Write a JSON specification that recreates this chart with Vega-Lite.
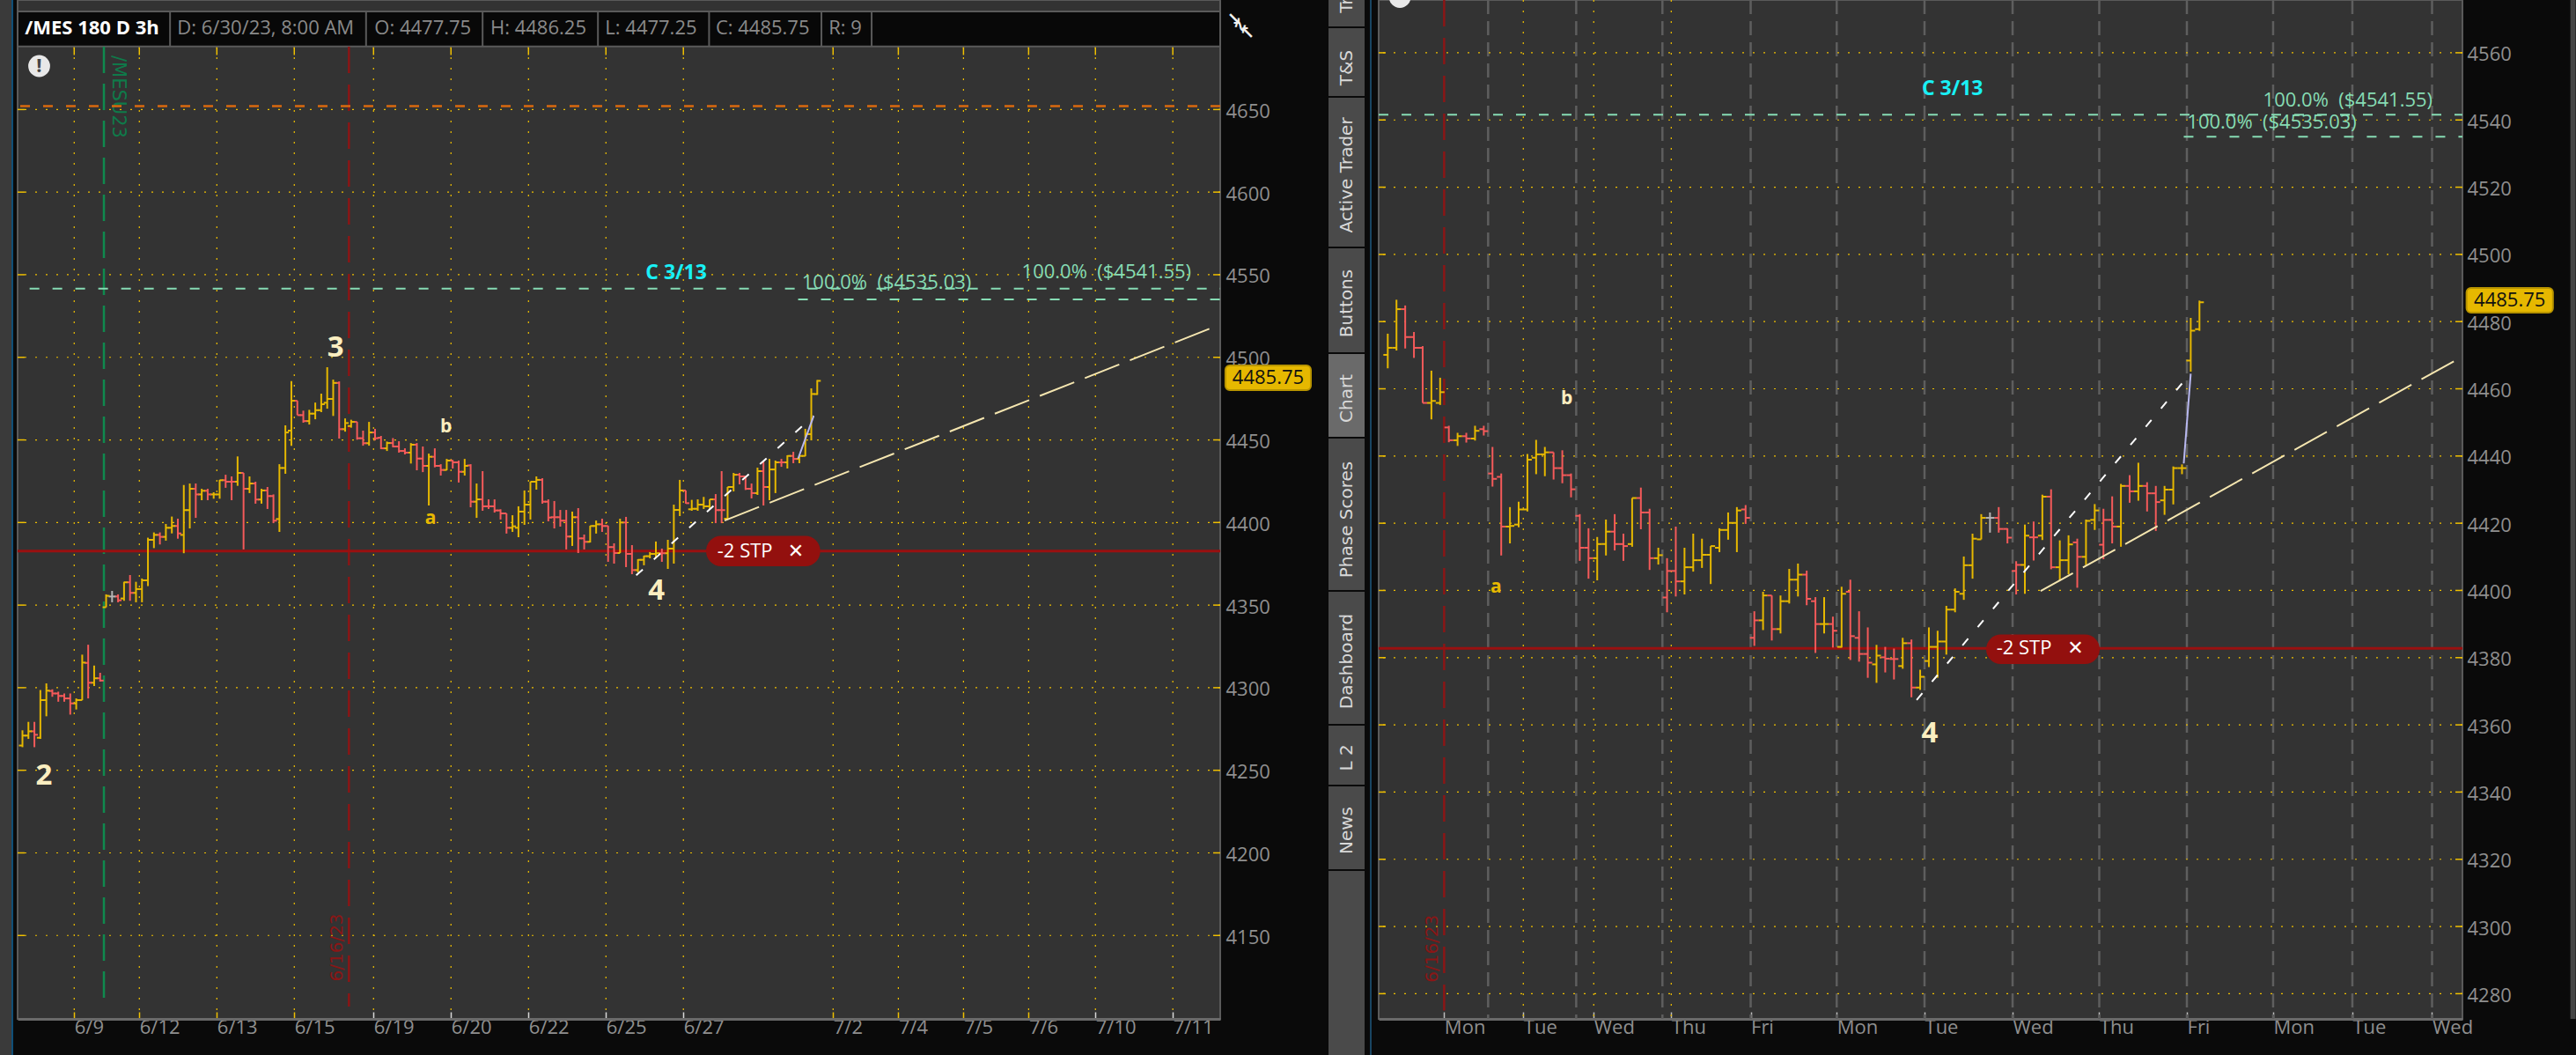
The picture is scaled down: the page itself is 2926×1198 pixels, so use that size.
{
  "$schema": "https://vega.github.io/schema/vega-lite/v6.json",
  "description": "/MES 180 D 3h bar charts, two zoom levels",
  "background": "#0a0a0a",
  "autosize": {"type": "none"},
  "padding": {"left": 20, "top": 0, "right": 2906, "bottom": 1198},
  "bounds": "flush",
  "spacing": 0,
  "config": {"text": {"font": "Open Sans"}, "rule": {"strokeCap": "butt"}},
  "datasets": {
    "left": [
      {"i":0,"o":4265,"h":4274.2,"l":4264,"c":4271,"d":"u"},
      {"i":1,"o":4271,"h":4279.3,"l":4269,"c":4273.6,"d":"u"},
      {"i":2,"o":4273.6,"h":4279.3,"l":4264,"c":4271.5,"d":"d"},
      {"i":3,"o":4269.7,"h":4298.6,"l":4269,"c":4292.5,"d":"u"},
      {"i":4,"o":4292.5,"h":4302.6,"l":4282.7,"c":4298.2,"d":"u"},
      {"i":5,"o":4298,"h":4299,"l":4294.5,"c":4296.5,"d":"d"},
      {"i":6,"o":4296.5,"h":4297.6,"l":4291.5,"c":4295,"d":"d"},
      {"i":7,"o":4295,"h":4296.5,"l":4291.5,"c":4293.5,"d":"d"},
      {"i":8,"o":4293.5,"h":4296.5,"l":4283.7,"c":4290.5,"d":"d"},
      {"i":9,"o":4290.5,"h":4293.5,"l":4286.8,"c":4292.5,"d":"u"},
      {"i":10,"o":4292.5,"h":4320,"l":4292.5,"c":4315.2,"d":"u"},
      {"i":11,"o":4315,"h":4326,"l":4293.5,"c":4303,"d":"d"},
      {"i":12,"o":4303,"h":4313.4,"l":4301,"c":4305.7,"d":"u"},
      {"i":13,"o":4305.7,"h":4309,"l":4303.7,"c":4304.3,"d":"d"},
      {"i":14,"o":4348.7,"h":4356.5,"l":4348.7,"c":4355.6,"d":"u"},
      {"i":15,"o":4355.2,"h":4358.6,"l":4351.7,"c":4355.2,"d":"f"},
      {"i":16,"o":4355.2,"h":4356.5,"l":4351.7,"c":4352.9,"d":"d"},
      {"i":17,"o":4354,"h":4364.1,"l":4352.6,"c":4363.8,"d":"u"},
      {"i":18,"o":4363.8,"h":4368.2,"l":4352.6,"c":4357.4,"d":"d"},
      {"i":19,"o":4357.4,"h":4364.1,"l":4351.7,"c":4359.7,"d":"u"},
      {"i":20,"o":4359.7,"h":4366.1,"l":4351.7,"c":4365,"d":"u"},
      {"i":21,"o":4365,"h":4390.8,"l":4361.5,"c":4389.5,"d":"u"},
      {"i":22,"o":4389.5,"h":4394,"l":4384.5,"c":4392.5,"d":"u"},
      {"i":23,"o":4392.5,"h":4394,"l":4386.7,"c":4391.3,"d":"d"},
      {"i":24,"o":4391.3,"h":4399.1,"l":4389,"c":4396.8,"d":"u"},
      {"i":25,"o":4396.8,"h":4403.6,"l":4393.4,"c":4397.9,"d":"u"},
      {"i":26,"o":4397.9,"h":4402.3,"l":4390.2,"c":4393.4,"d":"d"},
      {"i":27,"o":4392.5,"h":4422.7,"l":4381.4,"c":4407.5,"d":"u"},
      {"i":28,"o":4407.5,"h":4423.6,"l":4396.4,"c":4420.4,"d":"u"},
      {"i":29,"o":4420.4,"h":4423.6,"l":4402.8,"c":4417,"d":"d"},
      {"i":30,"o":4417,"h":4420.4,"l":4413.5,"c":4419.2,"d":"u"},
      {"i":31,"o":4419.2,"h":4420.4,"l":4413.5,"c":4417,"d":"d"},
      {"i":32,"o":4417,"h":4418.3,"l":4414.4,"c":4417,"d":"u"},
      {"i":33,"o":4417,"h":4425.8,"l":4414.4,"c":4425.6,"d":"u"},
      {"i":34,"o":4425.6,"h":4428.9,"l":4421,"c":4424.7,"d":"d"},
      {"i":35,"o":4424.7,"h":4427.9,"l":4413.5,"c":4424.7,"d":"d"},
      {"i":36,"o":4424.7,"h":4440,"l":4422.2,"c":4430,"d":"u"},
      {"i":37,"o":4430,"h":4430,"l":4383.7,"c":4420.4,"d":"d"},
      {"i":38,"o":4420.4,"h":4427.9,"l":4417.8,"c":4423.6,"d":"u"},
      {"i":39,"o":4423.6,"h":4424.7,"l":4411.4,"c":4413.9,"d":"d"},
      {"i":40,"o":4413.9,"h":4420.4,"l":4411.4,"c":4419.4,"d":"u"},
      {"i":41,"o":4419.4,"h":4421.5,"l":4408.2,"c":4416,"d":"d"},
      {"i":42,"o":4416,"h":4417,"l":4399.6,"c":4401.1,"d":"d"},
      {"i":43,"o":4402.1,"h":4435.3,"l":4394.3,"c":4433,"d":"u"},
      {"i":44,"o":4433,"h":4458.8,"l":4429.5,"c":4454.5,"d":"u"},
      {"i":45,"o":4455.6,"h":4485.6,"l":4446.4,"c":4473.7,"d":"u"},
      {"i":46,"o":4473.7,"h":4473.7,"l":4465,"c":4465,"d":"d"},
      {"i":47,"o":4465,"h":4467.7,"l":4460.4,"c":4461.4,"d":"d"},
      {"i":48,"o":4461.4,"h":4468.2,"l":4459.3,"c":4465.9,"d":"u"},
      {"i":49,"o":4465.9,"h":4472.6,"l":4462.5,"c":4468,"d":"u"},
      {"i":50,"o":4468,"h":4478,"l":4466.8,"c":4471.6,"d":"u"},
      {"i":51,"o":4472.5,"h":4494,"l":4468.9,"c":4474.8,"d":"u"},
      {"i":52,"o":4474.8,"h":4486.5,"l":4464.5,"c":4484.5,"d":"u"},
      {"i":53,"o":4484.5,"h":4485.4,"l":4450.8,"c":4456.5,"d":"d"},
      {"i":54,"o":4456.5,"h":4463,"l":4455,"c":4460.2,"d":"u"},
      {"i":55,"o":4458.4,"h":4462.2,"l":4457.4,"c":4460.9,"d":"u"},
      {"i":56,"o":4460.9,"h":4460.9,"l":4450.1,"c":4451,"d":"d"},
      {"i":57,"o":4451,"h":4455.6,"l":4446.5,"c":4448,"d":"d"},
      {"i":58,"o":4448,"h":4460.9,"l":4446.5,"c":4454.5,"d":"u"},
      {"i":59,"o":4454.5,"h":4456.7,"l":4449.7,"c":4451,"d":"d"},
      {"i":60,"o":4451.3,"h":4452.4,"l":4444.4,"c":4444.9,"d":"d"},
      {"i":61,"o":4444.9,"h":4449,"l":4443.3,"c":4448.1,"d":"u"},
      {"i":62,"o":4448.1,"h":4451.1,"l":4445.5,"c":4446,"d":"d"},
      {"i":63,"o":4446,"h":4449.2,"l":4442.3,"c":4443.3,"d":"d"},
      {"i":64,"o":4443.3,"h":4444.9,"l":4441.2,"c":4442.3,"d":"d"},
      {"i":65,"o":4442.3,"h":4448.1,"l":4435.7,"c":4447.1,"d":"u"},
      {"i":66,"o":4447.1,"h":4448.1,"l":4431.6,"c":4438.7,"d":"d"},
      {"i":67,"o":4438.7,"h":4446,"l":4430.5,"c":4434.3,"d":"d"},
      {"i":68,"o":4434.3,"h":4441.7,"l":4410.3,"c":4439.8,"d":"u"},
      {"i":69,"o":4439.8,"h":4444.9,"l":4433.4,"c":4434.3,"d":"d"},
      {"i":70,"o":4434.3,"h":4435.3,"l":4428.4,"c":4431.8,"d":"d"},
      {"i":71,"o":4431.8,"h":4438.5,"l":4431.6,"c":4437.5,"d":"u"},
      {"i":72,"o":4437.5,"h":4437.8,"l":4432.7,"c":4436.4,"d":"d"},
      {"i":73,"o":4436.4,"h":4437.5,"l":4424.2,"c":4430.7,"d":"d"},
      {"i":74,"o":4430.7,"h":4438.5,"l":4428.4,"c":4434.3,"d":"u"},
      {"i":75,"o":4434.6,"h":4435.3,"l":4409.2,"c":4412.6,"d":"d"},
      {"i":76,"o":4412.6,"h":4423.6,"l":4402.8,"c":4414,"d":"u"},
      {"i":77,"o":4414,"h":4431.1,"l":4407.1,"c":4409.8,"d":"d"},
      {"i":78,"o":4409.8,"h":4414,"l":4408.2,"c":4409.8,"d":"d"},
      {"i":79,"o":4409.8,"h":4414,"l":4406,"c":4407.3,"d":"d"},
      {"i":80,"o":4407.3,"h":4408,"l":4401.8,"c":4405.5,"d":"d"},
      {"i":81,"o":4405.5,"h":4405.5,"l":4393.3,"c":4396.8,"d":"d"},
      {"i":82,"o":4396.8,"h":4404.4,"l":4394.3,"c":4397.7,"d":"u"},
      {"i":83,"o":4396.8,"h":4409.8,"l":4391.1,"c":4406.6,"d":"u"},
      {"i":84,"o":4406.6,"h":4419.4,"l":4398.6,"c":4410.8,"d":"u"},
      {"i":85,"o":4410.8,"h":4424.7,"l":4401.8,"c":4424.7,"d":"u"},
      {"i":86,"o":4424.7,"h":4427.9,"l":4419.9,"c":4425.8,"d":"u"},
      {"i":87,"o":4425.8,"h":4426.8,"l":4411.4,"c":4412.6,"d":"d"},
      {"i":88,"o":4412.6,"h":4414,"l":4400.7,"c":4403,"d":"d"},
      {"i":89,"o":4403.2,"h":4413,"l":4396.4,"c":4403.2,"d":"d"},
      {"i":90,"o":4403.2,"h":4407.6,"l":4397.5,"c":4401.1,"d":"d"},
      {"i":91,"o":4401.1,"h":4407.6,"l":4383.7,"c":4391.5,"d":"d"},
      {"i":92,"o":4391.5,"h":4406.6,"l":4385.8,"c":4403.2,"d":"u"},
      {"i":93,"o":4403.2,"h":4408.7,"l":4381.5,"c":4390.4,"d":"d"},
      {"i":94,"o":4390.4,"h":4392.7,"l":4383.7,"c":4388.3,"d":"d"},
      {"i":95,"o":4388.3,"h":4398,"l":4387.9,"c":4397.9,"d":"u"},
      {"i":96,"o":4397.9,"h":4401.2,"l":4393.3,"c":4398.9,"d":"u"},
      {"i":97,"o":4398.9,"h":4402.3,"l":4394.3,"c":4397.9,"d":"d"},
      {"i":98,"o":4397.9,"h":4398,"l":4376.2,"c":4385.1,"d":"d"},
      {"i":99,"o":4385.1,"h":4387.4,"l":4375.1,"c":4381.5,"d":"d"},
      {"i":100,"o":4381.5,"h":4402.3,"l":4381.5,"c":4400,"d":"u"},
      {"i":101,"o":4400,"h":4403.4,"l":4373,"c":4381,"d":"d"},
      {"i":102,"o":4381,"h":4386.3,"l":4368.7,"c":4371.2,"d":"d"},
      {"i":103,"o":4371.2,"h":4377.8,"l":4369.8,"c":4377.4,"d":"u"},
      {"i":104,"o":4377.4,"h":4379.9,"l":4374.1,"c":4379.6,"d":"u"},
      {"i":105,"o":4379.6,"h":4382.1,"l":4378.3,"c":4381,"d":"u"},
      {"i":106,"o":4381,"h":4388.5,"l":4378.3,"c":4381.4,"d":"u"},
      {"i":107,"o":4381.4,"h":4384.2,"l":4376.2,"c":4381.4,"d":"d"},
      {"i":108,"o":4381.4,"h":4389.5,"l":4371.9,"c":4384.2,"d":"u"},
      {"i":109,"o":4384.2,"h":4410.8,"l":4375.1,"c":4407.6,"d":"u"},
      {"i":110,"o":4407.6,"h":4425.8,"l":4403.9,"c":4419.4,"d":"u"},
      {"i":111,"o":4419.4,"h":4419.4,"l":4411.4,"c":4411.7,"d":"d"},
      {"i":112,"o":4408,"h":4413.7,"l":4407.1,"c":4408.3,"d":"u"},
      {"i":113,"o":4408.3,"h":4414,"l":4407.1,"c":4410.8,"d":"u"},
      {"i":114,"o":4410.8,"h":4415.5,"l":4408.2,"c":4409.8,"d":"u"},
      {"i":115,"o":4409.8,"h":4414,"l":4408.2,"c":4414,"d":"u"},
      {"i":116,"o":4414,"h":4417.2,"l":4399.6,"c":4407.5,"d":"d"},
      {"i":117,"o":4407.5,"h":4431.1,"l":4399.6,"c":4407.5,"d":"d"},
      {"i":118,"o":4402.3,"h":4421.5,"l":4401.8,"c":4421.5,"d":"u"},
      {"i":119,"o":4421.5,"h":4430,"l":4418.8,"c":4428.9,"d":"u"},
      {"i":120,"o":4428.9,"h":4430,"l":4423.1,"c":4427.9,"d":"d"},
      {"i":121,"o":4427.9,"h":4427.9,"l":4419.7,"c":4420.4,"d":"d"},
      {"i":122,"o":4420.4,"h":4423.6,"l":4414.6,"c":4417.8,"d":"d"},
      {"i":123,"o":4417.8,"h":4433.2,"l":4416.7,"c":4431.1,"d":"u"},
      {"i":124,"o":4431.1,"h":4437.5,"l":4410.3,"c":4421.5,"d":"d"},
      {"i":125,"o":4421.5,"h":4438.5,"l":4413.5,"c":4432.1,"d":"u"},
      {"i":126,"o":4432.1,"h":4437.5,"l":4417.8,"c":4436.4,"d":"u"},
      {"i":127,"o":4436.4,"h":4438.5,"l":4433.7,"c":4436.4,"d":"d"},
      {"i":128,"o":4436.4,"h":4440.7,"l":4432.7,"c":4440.3,"d":"u"},
      {"i":129,"o":4440.3,"h":4442.8,"l":4435.9,"c":4438.5,"d":"d"},
      {"i":130,"o":4438.5,"h":4440.3,"l":4435.9,"c":4440.3,"d":"u"},
      {"i":131,"o":4440.3,"h":4456.7,"l":4440.1,"c":4453.5,"d":"u"},
      {"i":132,"o":4453.5,"h":4481.2,"l":4449.7,"c":4477.8,"d":"u"},
      {"i":133,"o":4477.75,"h":4486.25,"l":4477.25,"c":4485.75,"d":"u"}
    ],
    "right": [
      {"i":0,"o":4470.1,"h":4476.4,"l":4466.1,"c":4472.2,"d":"u"},
      {"i":1,"o":4472.2,"h":4486.5,"l":4471.4,"c":4483.7,"d":"u"},
      {"i":2,"o":4483.7,"h":4484.8,"l":4472,"c":4475.4,"d":"d"},
      {"i":3,"o":4475.4,"h":4476.9,"l":4469.2,"c":4472.2,"d":"d"},
      {"i":4,"o":4472.2,"h":4472.7,"l":4455.8,"c":4455.8,"d":"d"},
      {"i":5,"o":4455.8,"h":4465.4,"l":4450.9,"c":4456.4,"d":"u"},
      {"i":6,"o":4455.8,"h":4463.3,"l":4455.2,"c":4459,"d":"u"},
      {"i":7,"o":4448.5,"h":4449,"l":4444.1,"c":4444.7,"d":"d"},
      {"i":8,"o":4444.7,"h":4446.9,"l":4443,"c":4445.9,"d":"u"},
      {"i":9,"o":4445.9,"h":4446.9,"l":4444,"c":4445.2,"d":"d"},
      {"i":10,"o":4445.2,"h":4449,"l":4444.6,"c":4447.5,"d":"u"},
      {"i":11,"o":4448,"h":4449,"l":4446.1,"c":4447.4,"d":"d"},
      {"i":12,"o":4434.8,"h":4442.7,"l":4430.9,"c":4433.2,"d":"d"},
      {"i":13,"o":4433.8,"h":4434.8,"l":4410.4,"c":4419,"d":"d"},
      {"i":14,"o":4419,"h":4424.8,"l":4414,"c":4419.2,"d":"u"},
      {"i":15,"o":4419.6,"h":4426.4,"l":4418.8,"c":4424.1,"d":"u"},
      {"i":16,"o":4424.1,"h":4440.6,"l":4423.5,"c":4438.9,"d":"u"},
      {"i":17,"o":4439.5,"h":4444.8,"l":4434.6,"c":4440.5,"d":"u"},
      {"i":18,"o":4440.5,"h":4442.7,"l":4434,"c":4441.1,"d":"u"},
      {"i":19,"o":4441.1,"h":4441.1,"l":4433,"c":4436.4,"d":"d"},
      {"i":20,"o":4436.4,"h":4441.7,"l":4431.9,"c":4434.3,"d":"d"},
      {"i":21,"o":4434.3,"h":4434.8,"l":4427.7,"c":4430.1,"d":"d"},
      {"i":22,"o":4422.2,"h":4422.7,"l":4408.8,"c":4412.7,"d":"d"},
      {"i":23,"o":4412.7,"h":4418.5,"l":4403.5,"c":4409.6,"d":"d"},
      {"i":24,"o":4409.6,"h":4415.9,"l":4403,"c":4413.8,"d":"u"},
      {"i":25,"o":4413.8,"h":4421.1,"l":4410.4,"c":4417.5,"d":"u"},
      {"i":26,"o":4417.5,"h":4422.7,"l":4411.9,"c":4413.8,"d":"d"},
      {"i":27,"o":4413.8,"h":4416.9,"l":4408.8,"c":4413.2,"d":"d"},
      {"i":28,"o":4413.8,"h":4427.5,"l":4413,"c":4427.5,"d":"u"},
      {"i":29,"o":4427.5,"h":4430.6,"l":4418.2,"c":4423.2,"d":"d"},
      {"i":30,"o":4423.2,"h":4424.3,"l":4406.1,"c":4409.6,"d":"d"},
      {"i":31,"o":4409.6,"h":4412.7,"l":4407.7,"c":4410.5,"d":"u"},
      {"i":32,"o":4397.9,"h":4409.6,"l":4393.5,"c":4405.8,"d":"d"},
      {"i":33,"o":4405.8,"h":4419,"l":4398.2,"c":4402.7,"d":"d"},
      {"i":34,"o":4402.7,"h":4412.7,"l":4398.8,"c":4406.9,"d":"u"},
      {"i":35,"o":4406.9,"h":4416.9,"l":4405.6,"c":4409,"d":"u"},
      {"i":36,"o":4409,"h":4415.4,"l":4406.7,"c":4410.6,"d":"u"},
      {"i":37,"o":4410.6,"h":4413.2,"l":4401.9,"c":4413.2,"d":"u"},
      {"i":38,"o":4412.7,"h":4418.5,"l":4411.4,"c":4418,"d":"u"},
      {"i":39,"o":4418,"h":4423.2,"l":4415.1,"c":4420.1,"d":"u"},
      {"i":40,"o":4420.1,"h":4424.8,"l":4411.4,"c":4423.8,"d":"u"},
      {"i":41,"o":4424.1,"h":4425.4,"l":4419.8,"c":4421.6,"d":"d"},
      {"i":42,"o":4385.9,"h":4393.8,"l":4383.5,"c":4391.1,"d":"d"},
      {"i":43,"o":4391.1,"h":4399.6,"l":4388.2,"c":4398.5,"d":"u"},
      {"i":44,"o":4398.5,"h":4398.5,"l":4385.1,"c":4388.5,"d":"d"},
      {"i":45,"o":4388.5,"h":4398.5,"l":4387.2,"c":4396.8,"d":"u"},
      {"i":46,"o":4396.8,"h":4406.4,"l":4396.1,"c":4403.2,"d":"u"},
      {"i":47,"o":4403.2,"h":4408,"l":4398.2,"c":4404.7,"d":"u"},
      {"i":48,"o":4404.7,"h":4405.9,"l":4395.6,"c":4397.5,"d":"d"},
      {"i":49,"o":4396.8,"h":4398,"l":4381.4,"c":4390,"d":"d"},
      {"i":50,"o":4390,"h":4398,"l":4387.2,"c":4390,"d":"u"},
      {"i":51,"o":4390,"h":4392.2,"l":4383,"c":4388,"d":"d"},
      {"i":52,"o":4383.2,"h":4401.1,"l":4383,"c":4399,"d":"u"},
      {"i":53,"o":4399.6,"h":4403.2,"l":4379.3,"c":4386.4,"d":"d"},
      {"i":54,"o":4385.9,"h":4393.8,"l":4378.8,"c":4381.1,"d":"d"},
      {"i":55,"o":4381.1,"h":4389,"l":4374,"c":4378.5,"d":"d"},
      {"i":56,"o":4378,"h":4383.8,"l":4372.5,"c":4380.6,"d":"u"},
      {"i":57,"o":4380.1,"h":4383.2,"l":4375.6,"c":4379.7,"d":"d"},
      {"i":58,"o":4379.6,"h":4382.7,"l":4373.5,"c":4379.6,"d":"d"},
      {"i":59,"o":4377.5,"h":4385.9,"l":4376.7,"c":4384.3,"d":"u"},
      {"i":60,"o":4384.3,"h":4385.4,"l":4368.2,"c":4371.1,"d":"d"},
      {"i":61,"o":4371.1,"h":4376.4,"l":4370.4,"c":4374.3,"d":"u"},
      {"i":62,"o":4379,"h":4389,"l":4377.2,"c":4383.2,"d":"u"},
      {"i":63,"o":4383.2,"h":4388,"l":4374,"c":4384.8,"d":"u"},
      {"i":64,"o":4384.8,"h":4395.4,"l":4380.9,"c":4394.3,"d":"u"},
      {"i":65,"o":4394.3,"h":4400.6,"l":4393.5,"c":4399.6,"d":"u"},
      {"i":66,"o":4399,"h":4410.1,"l":4397.2,"c":4407.5,"d":"u"},
      {"i":67,"o":4407.5,"h":4416.9,"l":4403.5,"c":4415.4,"d":"u"},
      {"i":68,"o":4415.2,"h":4422.7,"l":4415.2,"c":4421.6,"d":"u"},
      {"i":69,"o":4421.6,"h":4423.2,"l":4417.2,"c":4421.6,"d":"f"},
      {"i":70,"o":4421.6,"h":4424.8,"l":4417.2,"c":4418.3,"d":"d"},
      {"i":71,"o":4418.3,"h":4418.5,"l":4414,"c":4415.7,"d":"d"},
      {"i":72,"o":4405.8,"h":4408.7,"l":4398.8,"c":4407.6,"d":"d"},
      {"i":73,"o":4407.6,"h":4419.6,"l":4399,"c":4416.3,"d":"u"},
      {"i":74,"o":4415.8,"h":4420.5,"l":4408.9,"c":4415.8,"d":"d"},
      {"i":75,"o":4416.3,"h":4428.5,"l":4415,"c":4427.9,"d":"u"},
      {"i":76,"o":4427.9,"h":4430.1,"l":4406.3,"c":4406.9,"d":"d"},
      {"i":77,"o":4406.9,"h":4414.9,"l":4403,"c":4409,"d":"u"},
      {"i":78,"o":4409,"h":4416.4,"l":4404.8,"c":4413.7,"d":"u"},
      {"i":79,"o":4414.3,"h":4415.4,"l":4400.8,"c":4410,"d":"d"},
      {"i":80,"o":4410,"h":4421.1,"l":4407.5,"c":4420.7,"d":"u"},
      {"i":81,"o":4421,"h":4425.7,"l":4418,"c":4423.8,"d":"u"},
      {"i":82,"o":4413.6,"h":4424.3,"l":4409.3,"c":4421,"d":"d"},
      {"i":83,"o":4421,"h":4428,"l":4414,"c":4419,"d":"d"},
      {"i":84,"o":4419,"h":4431.7,"l":4413,"c":4431.1,"d":"u"},
      {"i":85,"o":4431.1,"h":4434.3,"l":4426.1,"c":4429.5,"d":"d"},
      {"i":86,"o":4429.5,"h":4438,"l":4426.7,"c":4431.1,"d":"u"},
      {"i":87,"o":4431.1,"h":4432.2,"l":4423.5,"c":4428.9,"d":"d"},
      {"i":88,"o":4428.9,"h":4431.1,"l":4417.7,"c":4426.3,"d":"d"},
      {"i":89,"o":4426.8,"h":4431.1,"l":4422.5,"c":4430,"d":"u"},
      {"i":90,"o":4430,"h":4436.9,"l":4425.6,"c":4436.4,"d":"u"},
      {"i":91,"o":4436.4,"h":4437.5,"l":4434.6,"c":4436.4,"d":"u"},
      {"i":92,"o":4468.4,"h":4481.1,"l":4465.1,"c":4477.3,"d":"u"},
      {"i":93,"o":4477.75,"h":4486.25,"l":4477.25,"c":4485.75,"d":"u"}
    ],
    "leftLevels": [{"p":4150},{"p":4200},{"p":4250},{"p":4300},{"p":4350},{"p":4400},{"p":4450},{"p":4500},{"p":4550},{"p":4600},{"p":4650}],
    "rightLevels": [{"p":4280},{"p":4300},{"p":4320},{"p":4340},{"p":4360},{"p":4380},{"p":4400},{"p":4420},{"p":4440},{"p":4460},{"p":4480},{"p":4500},{"p":4520},{"p":4540},{"p":4560}],
    "leftDates": [{"i":8.66},{"i":19.56},{"i":32.53},{"i":45.49},{"i":58.75},{"i":71.71},{"i":84.68},{"i":97.64},{"i":110.6},{"i":135.65},{"i":146.57},{"i":157.47},{"i":168.37},{"i":179.55},{"i":192.5}]
  },
  "hconcat": [
    {
      "width": 1366,
      "height": 1157,
      "view": {"fill": "#333333", "stroke": "#5a5a5a", "strokeWidth": 2},
      "layer": [
        {
          "data": {"name": "leftDates"},
          "mark": {"type": "rule", "stroke": "#f0c000", "strokeWidth": 1.2, "strokeDash": [2, 10]},
          "encoding": {
            "x": {
              "field": "i", "type": "quantitative",
              "scale": {"domain": [-0.81, 200.43], "nice": false, "zero": false},
              "axis": {
                "title": null, "grid": false, "domain": true, "domainColor": "#6a6a6a", "domainWidth": 3,
                "values": [8.66,19.56,32.53,45.49,58.75,71.71,84.68,97.64,110.6,135.65,146.57,157.47,168.37,179.55,192.5],
                "labelExpr": "{'8.66':'6/9','19.56':'6/12','32.53':'6/13','45.49':'6/15','58.75':'6/19','71.71':'6/20','84.68':'6/22','97.64':'6/25','110.6':'6/27','135.65':'7/2','146.57':'7/4','157.47':'7/5','168.37':'7/6','179.55':'7/10','192.5':'7/11'}[datum.value]",
                "labelFont": "Open Sans", "labelFontSize": 22, "labelColor": "#8f8f8f", "labelAlign": "left", "labelBaseline": "top",
                "labelPadding": 7, "labelOverlap": false, "labelBound": false, "labelFlush": false,
                "tickSize": -8, "tickWidth": 1.5,
                "tickColor": {"condition": {"test": "datum.value < 50 || (datum.value > 130 && datum.value < 175)", "value": "#f0c000"}, "value": "#d8d8d8"}
              }
            },
            "y": {
              "datum": 4688, "type": "quantitative",
              "scale": {"domain": [4099.5, 4716.3], "nice": false, "zero": false},
              "axis": {
                "title": null, "orient": "right", "grid": false, "ticks": false, "domain": false,
                "values": [4150,4200,4250,4300,4350,4400,4450,4500,4550,4600,4650],
                "format": "d", "labelFont": "Open Sans", "labelFontSize": 22, "labelColor": "#8f8f8f", "labelPadding": 6,
                "labelOffset": 2, "labelOverlap": false, "labelBound": false, "labelFlush": false
              }
            },
            "y2": {"datum": 4099.5}
          }
        },
        {
          "data": {"name": "leftDates"},
          "mark": {"type": "rule", "stroke": "#f0c000", "strokeWidth": 1.5},
          "encoding": {
            "x": {"field": "i", "type": "quantitative"},
            "y": {"datum": 4688, "type": "quantitative"},
            "y2": {"datum": 4683}
          }
        },
        {
          "data": {"name": "leftLevels"},
          "mark": {"type": "rule", "stroke": "#f0c000", "strokeWidth": 1.2, "strokeDash": [2, 10]},
          "encoding": {"y": {"field": "p", "type": "quantitative"}}
        },
        {
          "data": {"name": "leftLevels"},
          "mark": {"type": "tick", "orient": "horizontal", "size": 8, "thickness": 1.5, "color": "#f0c000", "opacity": 1, "xOffset": 4},
          "encoding": {"x": {"datum": -0.81, "type": "quantitative"}, "y": {"field": "p", "type": "quantitative"}}
        },
        {
          "data": {"name": "leftLevels"},
          "mark": {"type": "tick", "orient": "horizontal", "size": 8, "thickness": 1.5, "color": "#f0c000", "opacity": 1, "xOffset": -4},
          "encoding": {"x": {"datum": 200.43, "type": "quantitative"}, "y": {"field": "p", "type": "quantitative"}}
        },
        {
          "data": {"values": [{"a": -3.76, "b": -1.69, "top": 4716.3, "bot": 4077.6}]},
          "mark": {"type": "rect", "fill": "#3a3a3a"},
          "encoding": {"x": {"field": "a", "type": "quantitative"}, "x2": {"field": "b"}, "y": {"field": "top", "type": "quantitative"}, "y2": {"field": "bot"}}
        },
        {
          "data": {"values": [{"a": -1.69, "top": 4716.3, "bot": 4077.6}]},
          "mark": {"type": "rule", "stroke": "#0f4f78", "strokeWidth": 2},
          "encoding": {"x": {"field": "a", "type": "quantitative"}, "y": {"field": "top", "type": "quantitative"}, "y2": {"field": "bot"}}
        },
        {
          "data": {"values": [{"a": -0.81, "b": 200.43, "top": 4709.4, "bot": 4688.2}]},
          "mark": {"type": "rect", "fill": "#080808", "stroke": "#5a5a5a", "strokeWidth": 2},
          "encoding": {"x": {"field": "a", "type": "quantitative"}, "x2": {"field": "b"}, "y": {"field": "top", "type": "quantitative"}, "y2": {"field": "bot"}}
        },
        {
          "data": {"values": [{"a": 24.7}, {"a": 57.5}, {"a": 77}, {"a": 96.3}, {"a": 114.9}, {"a": 133.7}, {"a": 142.1}]},
          "mark": {"type": "rule", "stroke": "#5a5a5a", "strokeWidth": 2},
          "encoding": {"x": {"field": "a", "type": "quantitative"}, "y": {"datum": 4709.4, "type": "quantitative"}, "y2": {"datum": 4688.2}}
        },
        {
          "data": {"values": [{"a": 0.4, "t": "/MES 180 D 3h"}]},
          "mark": {"type": "text", "align": "left", "baseline": "middle", "fontSize": 22, "fontWeight": "bold", "fill": "#ffffff"},
          "encoding": {"x": {"field": "a", "type": "quantitative"}, "y": {"datum": 4699, "type": "quantitative"}, "text": {"field": "t"}}
        },
        {
          "data": {"values": [{"a": 25.9, "t": "D: 6/30/23, 8:00 AM"}, {"a": 58.9, "t": "O: 4477.75"}, {"a": 78.3, "t": "H: 4486.25"}, {"a": 97.5, "t": "L: 4477.25"}, {"a": 116, "t": "C: 4485.75"}, {"a": 134.9, "t": "R: 9"}]},
          "mark": {"type": "text", "align": "left", "baseline": "middle", "fontSize": 22, "fill": "#8a8a8a"},
          "encoding": {"x": {"field": "a", "type": "quantitative"}, "y": {"datum": 4699, "type": "quantitative"}, "text": {"field": "t"}}
        },
        {
          "data": {"values": [{"a": 202.8, "p": 4704.6, "t": "↘"}, {"a": 203.8, "p": 4700.3, "t": "∿"}, {"a": 204.9, "p": 4696, "t": "↖"}]},
          "mark": {"type": "text", "font": "DejaVu Sans", "fontSize": 20, "fontWeight": "bold", "fill": "#f0f0f0"},
          "encoding": {"x": {"field": "a", "type": "quantitative"}, "y": {"field": "p", "type": "quantitative"}, "text": {"field": "t"}}
        },
        {
          "data": {"values": [{"a": 13.63, "top": 4688, "bot": 4107}]},
          "mark": {"type": "rule", "stroke": "#0f8a4e", "strokeWidth": 2.5, "strokeDash": [30, 12]},
          "encoding": {"x": {"field": "a", "type": "quantitative"}, "y": {"field": "top", "type": "quantitative"}, "y2": {"field": "bot"}}
        },
        {
          "data": {"values": [{"a": 54.63, "top": 4688, "bot": 4107}]},
          "mark": {"type": "rule", "stroke": "#8a1616", "strokeWidth": 2.5, "strokeDash": [30, 13]},
          "encoding": {"x": {"field": "a", "type": "quantitative"}, "y": {"field": "top", "type": "quantitative"}, "y2": {"field": "bot"}}
        },
        {
          "data": {"values": [{"a": 16, "p": 4657.7, "t": "/MESU23"}]},
          "mark": {"type": "text", "font": "DejaVu Sans", "fontSize": 21, "angle": 90, "fill": "#0f7a4a"},
          "encoding": {"x": {"field": "a", "type": "quantitative"}, "y": {"field": "p", "type": "quantitative"}, "text": {"field": "t"}}
        },
        {
          "data": {"values": [{"a": 52.6, "p": 4142.7, "t": "6/16/23"}]},
          "mark": {"type": "text", "font": "DejaVu Sans", "fontSize": 20, "angle": 270, "fill": "#8a1616"},
          "encoding": {"x": {"field": "a", "type": "quantitative"}, "y": {"field": "p", "type": "quantitative"}, "text": {"field": "t"}}
        },
        {
          "data": {"values": [{"p": 4652}]},
          "mark": {"type": "rule", "stroke": "#d9690f", "strokeWidth": 2.5, "strokeDash": [11, 15]},
          "encoding": {"y": {"field": "p", "type": "quantitative"}}
        },
        {
          "data": {"values": [{"a": 1.2, "b": 200.43, "p": 4541.55}, {"a": 129.8, "b": 200.43, "p": 4535.03}]},
          "mark": {"type": "rule", "stroke": "#86dcb4", "strokeWidth": 2, "strokeDash": [11, 15]},
          "encoding": {"x": {"field": "a", "type": "quantitative"}, "x2": {"field": "b"}, "y": {"field": "p", "type": "quantitative"}}
        },
        {
          "data": {"values": [{"p": 4382.75}]},
          "mark": {"type": "rule", "stroke": "#9a1010", "strokeWidth": 3},
          "encoding": {"y": {"field": "p", "type": "quantitative"}}
        },
        {
          "data": {"name": "left"},
          "mark": {"type": "rule", "strokeWidth": 2},
          "encoding": {
            "x": {"field": "i", "type": "quantitative"},
            "y": {"field": "h", "type": "quantitative"},
            "y2": {"field": "l"},
            "color": {"field": "d", "type": "nominal", "scale": {"domain": ["u", "d", "f"], "range": ["#e6b800", "#f55a5a", "#b4b4b4"]}, "legend": null}
          }
        },
        {
          "data": {"name": "left"},
          "mark": {"type": "tick", "orient": "horizontal", "size": 4, "thickness": 2, "opacity": 1, "xOffset": -2},
          "encoding": {"x": {"field": "i", "type": "quantitative"}, "y": {"field": "o", "type": "quantitative"}, "color": {"field": "d", "type": "nominal", "legend": null}}
        },
        {
          "data": {"name": "left"},
          "mark": {"type": "tick", "orient": "horizontal", "size": 4, "thickness": 2, "opacity": 1, "xOffset": 2},
          "encoding": {"x": {"field": "i", "type": "quantitative"}, "y": {"field": "c", "type": "quantitative"}, "color": {"field": "d", "type": "nominal", "legend": null}}
        },
        {
          "data": {"values": [{"a": 102.7, "b": 132.4, "p": 4368, "q": 4464.5}]},
          "mark": {"type": "rule", "stroke": "#ffffff", "strokeWidth": 2, "strokeDash": [10, 17]},
          "encoding": {"x": {"field": "a", "type": "quantitative"}, "x2": {"field": "b"}, "y": {"field": "p", "type": "quantitative"}, "y2": {"field": "q"}}
        },
        {
          "data": {"values": [{"a": 117.5, "b": 199.5, "p": 4401.2, "q": 4518.5}]},
          "mark": {"type": "rule", "stroke": "#f5e6b0", "strokeWidth": 2, "strokeDash": [42, 13]},
          "encoding": {"x": {"field": "a", "type": "quantitative"}, "x2": {"field": "b"}, "y": {"field": "p", "type": "quantitative"}, "y2": {"field": "q"}}
        },
        {
          "data": {"values": [{"a": 129.8, "b": 132.4, "p": 4438.7, "q": 4464.5}]},
          "mark": {"type": "rule", "stroke": "#b8b8f0", "strokeWidth": 2},
          "encoding": {"x": {"field": "a", "type": "quantitative"}, "x2": {"field": "b"}, "y": {"field": "p", "type": "quantitative"}, "y2": {"field": "q"}}
        },
        {
          "data": {"values": [{"a": 114.4, "b": 133.5, "p": 4391.9, "q": 4373.5}]},
          "mark": {"type": "rect", "fill": "#93100e", "cornerRadius": 17},
          "encoding": {"x": {"field": "a", "type": "quantitative"}, "x2": {"field": "b"}, "y": {"field": "p", "type": "quantitative"}, "y2": {"field": "q"}}
        },
        {
          "data": {"values": [{"a": 120.9, "p": 4382.75, "t": "-2 STP"}]},
          "mark": {"type": "text", "fontSize": 22, "fill": "#ffffff"},
          "encoding": {"x": {"field": "a", "type": "quantitative"}, "y": {"field": "p", "type": "quantitative"}, "text": {"field": "t"}}
        },
        {
          "data": {"values": [{"a": 129.4, "p": 4382.75, "t": "✕"}]},
          "mark": {"type": "text", "font": "DejaVu Sans", "fontSize": 22, "fontWeight": "bold", "fill": "#ffffff"},
          "encoding": {"x": {"field": "a", "type": "quantitative"}, "y": {"field": "p", "type": "quantitative"}, "text": {"field": "t"}}
        },
        {
          "data": {"values": [{"a": 52.4, "p": 4505.7, "t": "3"}, {"a": 3.6, "p": 4246.6, "t": "2"}, {"a": 106.1, "p": 4358.6, "t": "4"}]},
          "mark": {"type": "text", "fontSize": 33, "fontWeight": "bold", "fill": "#fbeec0"},
          "encoding": {"x": {"field": "a", "type": "quantitative"}, "y": {"field": "p", "type": "quantitative"}, "text": {"field": "t"}}
        },
        {
          "data": {"values": [{"a": 70.9, "p": 4457.7, "t": "b"}]},
          "mark": {"type": "text", "fontSize": 21, "fontWeight": "bold", "fill": "#fbeec0"},
          "encoding": {"x": {"field": "a", "type": "quantitative"}, "y": {"field": "p", "type": "quantitative"}, "text": {"field": "t"}}
        },
        {
          "data": {"values": [{"a": 68.3, "p": 4402.3, "t": "a"}]},
          "mark": {"type": "text", "fontSize": 21, "fontWeight": "bold", "fill": "#e6b800"},
          "encoding": {"x": {"field": "a", "type": "quantitative"}, "y": {"field": "p", "type": "quantitative"}, "text": {"field": "t"}}
        },
        {
          "data": {"values": [{"a": 109.4, "p": 4551, "t": "C 3/13"}]},
          "mark": {"type": "text", "fontSize": 23, "fontWeight": "bold", "fill": "#19f0f5"},
          "encoding": {"x": {"field": "a", "type": "quantitative"}, "y": {"field": "p", "type": "quantitative"}, "text": {"field": "t"}}
        },
        {
          "data": {"values": [{"a": 181.4, "p": 4551.8, "t": "100.0%\u00a0\u00a0($4541.55)"}, {"a": 144.6, "p": 4545.2, "t": "100.0%\u00a0\u00a0($4535.03)"}]},
          "mark": {"type": "text", "fontSize": 22, "fill": "#86dcb4"},
          "encoding": {"x": {"field": "a", "type": "quantitative"}, "y": {"field": "p", "type": "quantitative"}, "text": {"field": "t"}}
        },
        {
          "data": {"values": [{"a": 2.8, "p": 4676.3}]},
          "mark": {"type": "point", "shape": "circle", "size": 616, "filled": true, "fill": "#e8e8e8", "opacity": 1},
          "encoding": {"x": {"field": "a", "type": "quantitative"}, "y": {"field": "p", "type": "quantitative"}}
        },
        {
          "data": {"values": [{"a": 2.8, "p": 4676.3, "t": "!"}]},
          "mark": {"type": "text", "fontSize": 22, "fontWeight": "bold", "fill": "#444444"},
          "encoding": {"x": {"field": "a", "type": "quantitative"}, "y": {"field": "p", "type": "quantitative"}, "text": {"field": "t"}}
        },
        {
          "data": {"values": [{"a": 201.3, "b": 215.6, "p": 4495, "q": 4480.1}]},
          "mark": {"type": "rect", "fill": "#e6b800", "stroke": "#b89400", "strokeWidth": 2, "cornerRadius": 5},
          "encoding": {"x": {"field": "a", "type": "quantitative"}, "x2": {"field": "b"}, "y": {"field": "p", "type": "quantitative"}, "y2": {"field": "q"}}
        },
        {
          "data": {"values": [{"a": 208.45, "p": 4487.5, "t": "4485.75"}]},
          "mark": {"type": "text", "fontSize": 22, "fill": "#111111"},
          "encoding": {"x": {"field": "a", "type": "quantitative"}, "y": {"field": "p", "type": "quantitative"}, "text": {"field": "t"}}
        }
      ]
    },
    {
      "width": 180,
      "height": 1157,
      "view": {"stroke": null},
      "layer": [
        {
          "data": {"values": [
            {"a": 123, "b": 164, "top": 0, "bot": 30},
            {"a": 123, "b": 164, "top": 32, "bot": 109},
            {"a": 123, "b": 164, "top": 111, "bot": 280},
            {"a": 123, "b": 164, "top": 282, "bot": 400},
            {"a": 123, "b": 164, "top": 498, "bot": 670},
            {"a": 123, "b": 164, "top": 672, "bot": 822},
            {"a": 123, "b": 164, "top": 824, "bot": 891},
            {"a": 123, "b": 164, "top": 893, "bot": 987},
            {"a": 123, "b": 164, "top": 989, "bot": 1198}
          ]},
          "mark": {"type": "rect", "fill": "#4a4a4a"},
          "encoding": {
            "x": {"field": "a", "type": "quantitative", "scale": {"domain": [0, 180], "nice": false}, "axis": null},
            "x2": {"field": "b"},
            "y": {"field": "top", "type": "quantitative", "scale": {"domain": [1157, 0], "nice": false, "zero": false}, "axis": null},
            "y2": {"field": "bot"}
          }
        },
        {
          "data": {"values": [{"a": 123, "b": 164, "top": 402, "bot": 496}]},
          "mark": {"type": "rect", "fill": "#6a6a6a"},
          "encoding": {"x": {"field": "a", "type": "quantitative"}, "x2": {"field": "b"}, "y": {"field": "top", "type": "quantitative"}, "y2": {"field": "bot"}}
        },
        {
          "data": {"values": [{"a": 171, "top": 0, "bot": 1198}]},
          "mark": {"type": "rule", "stroke": "#1f5a80", "strokeWidth": 1.5},
          "encoding": {"x": {"field": "a", "type": "quantitative"}, "y": {"field": "top", "type": "quantitative"}, "y2": {"field": "bot"}}
        },
        {
          "data": {"values": [
            {"mid": 6, "t": "Tr"},
            {"mid": 77, "t": "T&S"},
            {"mid": 199, "t": "Active Trader"},
            {"mid": 344.5, "t": "Buttons"},
            {"mid": 452.5, "t": "Chart"},
            {"mid": 590, "t": "Phase Scores"},
            {"mid": 751, "t": "Dashboard"},
            {"mid": 860.5, "t": "L 2"},
            {"mid": 943, "t": "News"}
          ]},
          "mark": {"type": "text", "font": "DejaVu Sans", "fontSize": 20, "angle": 270, "fill": "#d8d8d8"},
          "encoding": {"x": {"datum": 144, "type": "quantitative"}, "y": {"field": "mid", "type": "quantitative"}, "text": {"field": "t"}}
        }
      ]
    },
    {
      "width": 1231,
      "height": 1157,
      "view": {"fill": "#333333", "stroke": "#5a5a5a", "strokeWidth": 2},
      "layer": [
        {
          "data": {"values": [{"i": 11.5}, {"i": 21.59}, {"i": 31.47}, {"i": 41.58}, {"i": 51.44}, {"i": 61.5}, {"i": 71.59}, {"i": 81.52}, {"i": 91.56}, {"i": 101.44}, {"i": 110.52}, {"i": 119.65}]},
          "mark": {"type": "rule", "stroke": "#5e5e5e", "strokeWidth": 2.5, "strokeDash": [16, 8]},
          "encoding": {
            "x": {
              "field": "i", "type": "quantitative",
              "scale": {"domain": [-1.04, 123.13], "nice": false, "zero": false},
              "axis": {
                "title": null, "grid": false, "domain": true, "domainColor": "#6a6a6a", "domainWidth": 3,
                "values": [6.46,15.53,23.6,32.48,41.58,51.44,61.5,71.59,81.52,91.56,101.44,110.52,119.65],
                "labelExpr": "{'6.46':'Mon','15.53':'Tue','23.6':'Wed','32.48':'Thu','41.58':'Fri','51.44':'Mon','61.5':'Tue','71.59':'Wed','81.52':'Thu','91.56':'Fri','101.44':'Mon','110.52':'Tue','119.65':'Wed'}[datum.value]",
                "labelFont": "Open Sans", "labelFontSize": 22, "labelColor": "#8f8f8f", "labelAlign": "left", "labelBaseline": "top",
                "labelPadding": 7, "labelOverlap": false, "labelBound": false, "labelFlush": false,
                "tickSize": -8, "tickWidth": 1.5, "tickColor": "#bdbdbd"
              }
            },
            "y": {
              "datum": 4575.7, "type": "quantitative",
              "scale": {"domain": [4272.5, 4575.7], "nice": false, "zero": false},
              "axis": {
                "title": null, "orient": "right", "grid": false, "ticks": false, "domain": false,
                "values": [4280,4300,4320,4340,4360,4380,4400,4420,4440,4460,4480,4500,4520,4540,4560],
                "format": "d", "labelFont": "Open Sans", "labelFontSize": 22, "labelColor": "#8f8f8f", "labelPadding": 5,
                "labelOffset": 2, "labelOverlap": false, "labelBound": false, "labelFlush": false
              }
            },
            "y2": {"datum": 4272.5}
          }
        },
        {
          "data": {"values": [{"i": 15.53}, {"i": 23.6}, {"i": 32.48}]},
          "mark": {"type": "rule", "stroke": "#f0c000", "strokeWidth": 1.2, "strokeDash": [2, 10]},
          "encoding": {"x": {"field": "i", "type": "quantitative"}, "y": {"datum": 4575.7, "type": "quantitative"}, "y2": {"datum": 4272.5}}
        },
        {
          "data": {"name": "rightLevels"},
          "mark": {"type": "rule", "stroke": "#f0c000", "strokeWidth": 1.2, "strokeDash": [2, 10]},
          "encoding": {"y": {"field": "p", "type": "quantitative"}}
        },
        {
          "data": {"name": "rightLevels"},
          "mark": {"type": "tick", "orient": "horizontal", "size": 8, "thickness": 1.5, "color": "#f0c000", "opacity": 1, "xOffset": 4},
          "encoding": {"x": {"datum": -1.04, "type": "quantitative"}, "y": {"field": "p", "type": "quantitative"}}
        },
        {
          "data": {"name": "rightLevels"},
          "mark": {"type": "tick", "orient": "horizontal", "size": 8, "thickness": 1.5, "color": "#f0c000", "opacity": 1, "xOffset": -4},
          "encoding": {"x": {"datum": 123.13, "type": "quantitative"}, "y": {"field": "p", "type": "quantitative"}}
        },
        {
          "data": {"values": [{"a": 6.46, "top": 4575.7, "bot": 4275}]},
          "mark": {"type": "rule", "stroke": "#8a1616", "strokeWidth": 2.5, "strokeDash": [30, 13]},
          "encoding": {"x": {"field": "a", "type": "quantitative"}, "y": {"field": "top", "type": "quantitative"}, "y2": {"field": "bot"}}
        },
        {
          "data": {"values": [{"a": 5.1, "p": 4293.4, "t": "6/16/23"}]},
          "mark": {"type": "text", "font": "DejaVu Sans", "fontSize": 20, "angle": 270, "fill": "#8a1616"},
          "encoding": {"x": {"field": "a", "type": "quantitative"}, "y": {"field": "p", "type": "quantitative"}, "text": {"field": "t"}}
        },
        {
          "data": {"values": [{"a": -1.04, "b": 123.13, "p": 4541.55}, {"a": 91.2, "b": 123.13, "p": 4535.03}]},
          "mark": {"type": "rule", "stroke": "#86dcb4", "strokeWidth": 2, "strokeDash": [11, 15]},
          "encoding": {"x": {"field": "a", "type": "quantitative"}, "x2": {"field": "b"}, "y": {"field": "p", "type": "quantitative"}}
        },
        {
          "data": {"values": [{"p": 4382.75}]},
          "mark": {"type": "rule", "stroke": "#9a1010", "strokeWidth": 3},
          "encoding": {"y": {"field": "p", "type": "quantitative"}}
        },
        {
          "data": {"name": "right"},
          "mark": {"type": "rule", "strokeWidth": 2},
          "encoding": {
            "x": {"field": "i", "type": "quantitative"},
            "y": {"field": "h", "type": "quantitative"},
            "y2": {"field": "l"},
            "color": {"field": "d", "type": "nominal", "scale": {"domain": ["u", "d", "f"], "range": ["#e6b800", "#f55a5a", "#b4b4b4"]}, "legend": null}
          }
        },
        {
          "data": {"name": "right"},
          "mark": {"type": "tick", "orient": "horizontal", "size": 5, "thickness": 2, "opacity": 1, "xOffset": -2.5},
          "encoding": {"x": {"field": "i", "type": "quantitative"}, "y": {"field": "o", "type": "quantitative"}, "color": {"field": "d", "type": "nominal", "legend": null}}
        },
        {
          "data": {"name": "right"},
          "mark": {"type": "tick", "orient": "horizontal", "size": 5, "thickness": 2, "opacity": 1, "xOffset": 2.5},
          "encoding": {"x": {"field": "i", "type": "quantitative"}, "y": {"field": "c", "type": "quantitative"}, "color": {"field": "d", "type": "nominal", "legend": null}}
        },
        {
          "data": {"values": [{"a": 60.6, "b": 91.65, "p": 4367.4, "q": 4463.6}]},
          "mark": {"type": "rule", "stroke": "#ffffff", "strokeWidth": 2, "strokeDash": [10, 17]},
          "encoding": {"x": {"field": "a", "type": "quantitative"}, "x2": {"field": "b"}, "y": {"field": "p", "type": "quantitative"}, "y2": {"field": "q"}}
        },
        {
          "data": {"values": [{"a": 74.8, "b": 122.7, "p": 4399.8, "q": 4469}]},
          "mark": {"type": "rule", "stroke": "#f5e6b0", "strokeWidth": 2, "strokeDash": [42, 13]},
          "encoding": {"x": {"field": "a", "type": "quantitative"}, "x2": {"field": "b"}, "y": {"field": "p", "type": "quantitative"}, "y2": {"field": "q"}}
        },
        {
          "data": {"values": [{"a": 91.2, "b": 92, "p": 4437.8, "q": 4464.5}]},
          "mark": {"type": "rule", "stroke": "#b8b8f0", "strokeWidth": 2},
          "encoding": {"x": {"field": "a", "type": "quantitative"}, "x2": {"field": "b"}, "y": {"field": "p", "type": "quantitative"}, "y2": {"field": "q"}}
        },
        {
          "data": {"values": [{"a": 68.56, "b": 81.57, "p": 4386.9, "q": 4378.1}]},
          "mark": {"type": "rect", "fill": "#93100e", "cornerRadius": 17},
          "encoding": {"x": {"field": "a", "type": "quantitative"}, "x2": {"field": "b"}, "y": {"field": "p", "type": "quantitative"}, "y2": {"field": "q"}}
        },
        {
          "data": {"values": [{"a": 72.9, "p": 4382.75, "t": "-2 STP"}]},
          "mark": {"type": "text", "fontSize": 22, "fill": "#ffffff"},
          "encoding": {"x": {"field": "a", "type": "quantitative"}, "y": {"field": "p", "type": "quantitative"}, "text": {"field": "t"}}
        },
        {
          "data": {"values": [{"a": 78.8, "p": 4382.75, "t": "✕"}]},
          "mark": {"type": "text", "font": "DejaVu Sans", "fontSize": 22, "fontWeight": "bold", "fill": "#ffffff"},
          "encoding": {"x": {"field": "a", "type": "quantitative"}, "y": {"field": "p", "type": "quantitative"}, "text": {"field": "t"}}
        },
        {
          "data": {"values": [{"a": 62.1, "p": 4357.5, "t": "4"}]},
          "mark": {"type": "text", "fontSize": 33, "fontWeight": "bold", "fill": "#fbeec0"},
          "encoding": {"x": {"field": "a", "type": "quantitative"}, "y": {"field": "p", "type": "quantitative"}, "text": {"field": "t"}}
        },
        {
          "data": {"values": [{"a": 20.5, "p": 4456.9, "t": "b"}]},
          "mark": {"type": "text", "fontSize": 21, "fontWeight": "bold", "fill": "#fbeec0"},
          "encoding": {"x": {"field": "a", "type": "quantitative"}, "y": {"field": "p", "type": "quantitative"}, "text": {"field": "t"}}
        },
        {
          "data": {"values": [{"a": 12.4, "p": 4401, "t": "a"}]},
          "mark": {"type": "text", "fontSize": 21, "fontWeight": "bold", "fill": "#e6b800"},
          "encoding": {"x": {"field": "a", "type": "quantitative"}, "y": {"field": "p", "type": "quantitative"}, "text": {"field": "t"}}
        },
        {
          "data": {"values": [{"a": 64.7, "p": 4549.2, "t": "C 3/13"}]},
          "mark": {"type": "text", "fontSize": 23, "fontWeight": "bold", "fill": "#19f0f5"},
          "encoding": {"x": {"field": "a", "type": "quantitative"}, "y": {"field": "p", "type": "quantitative"}, "text": {"field": "t"}}
        },
        {
          "data": {"values": [{"a": 110, "p": 4545.8, "t": "100.0%\u00a0\u00a0($4541.55)"}, {"a": 101.3, "p": 4539.4, "t": "100.0%\u00a0\u00a0($4535.03)"}]},
          "mark": {"type": "text", "fontSize": 22, "fill": "#86dcb4"},
          "encoding": {"x": {"field": "a", "type": "quantitative"}, "y": {"field": "p", "type": "quantitative"}, "text": {"field": "t"}}
        },
        {
          "data": {"values": [{"a": 1.39, "p": 4576.6}]},
          "mark": {"type": "point", "shape": "circle", "size": 616, "filled": true, "fill": "#e8e8e8", "opacity": 1},
          "encoding": {"x": {"field": "a", "type": "quantitative"}, "y": {"field": "p", "type": "quantitative"}}
        },
        {
          "data": {"values": [{"a": 123.6, "b": 133.5, "p": 4490, "q": 4482.7}]},
          "mark": {"type": "rect", "fill": "#e6b800", "stroke": "#b89400", "strokeWidth": 2, "cornerRadius": 5},
          "encoding": {"x": {"field": "a", "type": "quantitative"}, "x2": {"field": "b"}, "y": {"field": "p", "type": "quantitative"}, "y2": {"field": "q"}}
        },
        {
          "data": {"values": [{"a": 128.55, "p": 4486.4, "t": "4485.75"}]},
          "mark": {"type": "text", "fontSize": 22, "fill": "#111111"},
          "encoding": {"x": {"field": "a", "type": "quantitative"}, "y": {"field": "p", "type": "quantitative"}, "text": {"field": "t"}}
        },
        {
          "data": {"values": [{"a": 135.5, "b": 136.1, "top": 4575.7, "bot": 4272.5}]},
          "mark": {"type": "rect", "fill": "#444444"},
          "encoding": {"x": {"field": "a", "type": "quantitative"}, "x2": {"field": "b"}, "y": {"field": "top", "type": "quantitative"}, "y2": {"field": "bot"}}
        }
      ]
    }
  ]
}
